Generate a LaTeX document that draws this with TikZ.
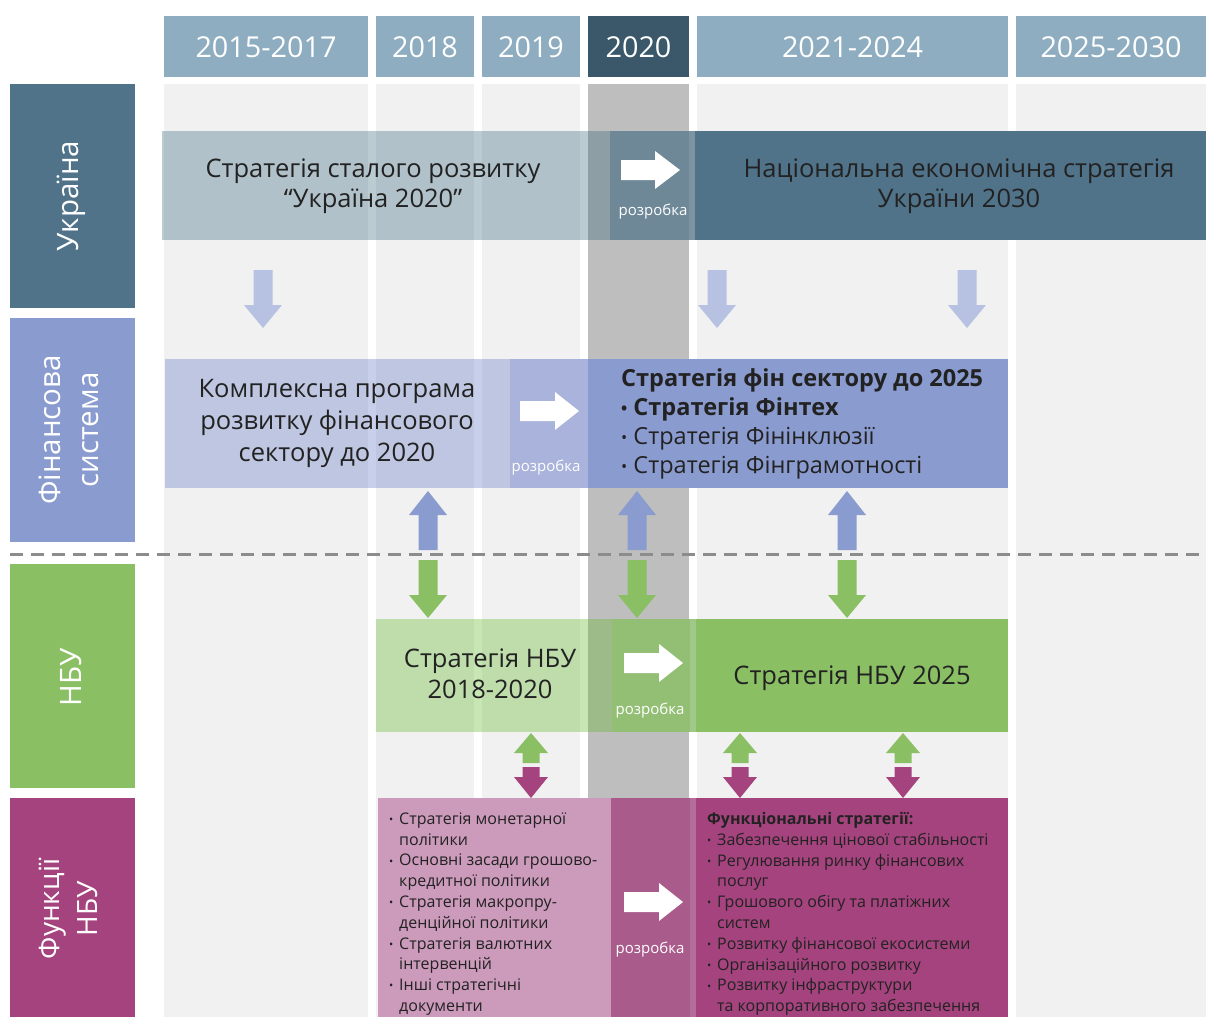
\documentclass[tikz,border=0pt]{standalone}
\usepackage{fontspec}
\setmainfont{Open Sans}
\definecolor{hdrc}{HTML}{8EADC0}
\definecolor{hdrd}{HTML}{3A5869}
\definecolor{colbg}{HTML}{F1F1F1}
\definecolor{colgray}{HTML}{BEBEBE}
\definecolor{ukc}{HTML}{50738A}
\definecolor{finc}{HTML}{8A9BCF}
\definecolor{nbuc}{HTML}{8ABF64}
\definecolor{func}{HTML}{A4437D}
\definecolor{rowAbase}{RGB}{30,85,109}
\definecolor{rowBbase}{RGB}{95,118,198}
\definecolor{rowCbase}{RGB}{98,181,41}
\definecolor{devA}{HTML}{6E8898}
\definecolor{devAs}{HTML}{7D95A3}
\definecolor{devB}{HTML}{A9B3DB}
\definecolor{devC}{HTML}{93BF75}
\definecolor{devCs}{HTML}{A0C889}
\definecolor{funL}{HTML}{CC9BBB}
\definecolor{devD}{HTML}{A95B8B}
\definecolor{devDs}{HTML}{B56E99}
\definecolor{arrLight}{HTML}{B7C2E2}
\definecolor{txtd}{HTML}{222222}
\definecolor{dashc}{HTML}{8C8C8C}
\newcommand\BArrV[7]{\fill[#1] ({#2-#6},#3) -- ({#2+#6},#3) -- ({#2+#6},#4) -- ({#2+#7},#4) -- (#2,#5) -- ({#2-#7},#4) -- ({#2-#6},#4) -- cycle;}
\newcommand\BArrH[7]{\fill[#1] (#3,{#2-#6}) -- (#4,{#2-#6}) -- (#4,{#2-#7}) -- (#5,#2) -- (#4,{#2+#7}) -- (#4,{#2+#6}) -- (#3,{#2+#6}) -- cycle;}
\newcommand\SmallBul{\raisebox{0.05em}{\scalebox{0.7}{•}}}
\newcommand\Bul{\makebox[10pt][l]{\SmallBul}}
\newcommand\Ind{\hspace*{10pt}}
\begin{document}
\begin{tikzpicture}[x=1pt,y=-1pt,
  hdrtxt/.style={text=white, inner sep=0pt, font=\fontsize{28.8}{30}\selectfont},
  sidetxt/.style={text=white, inner sep=0pt, rotate=90, align=center, font=\fontsize{29.5}{38}\selectfont},
  bandtxt/.style={text=txtd, inner sep=0pt, align=center, font=\fontsize{25.5}{30.5}\selectfont},
  devtxt/.style={text=white, inner sep=0pt, font=\fontsize{15}{16}\selectfont},
  listtxt/.style={text=txtd, inner sep=0pt, align=left, anchor=west, font=\fontsize{16}{20.8}\selectfont}]
\useasboundingbox (0,0) rectangle (1206,1017);
\fill[white] (0,0) rectangle (1206,1017);
% headers and column backgrounds
\foreach \a/\b/\t [count=\i] in {164/368/2015-2017, 376/474/2018, 482/580/2019, 697/1008/2021-2024, 1016/1206/2025-2030} {
  \fill[hdrc] (\a,16) rectangle (\b,77);
  \fill[colbg] (\a,84) rectangle (\b,1017);
  \node[hdrtxt] (h\i) at ({(\a+\b)/2},47) {\t};
}
\fill[hdrd] (588,16) rectangle (689,77);
\node[hdrtxt] (h2020) at (638.5,47) {2020};
\fill[colgray] (588,84) rectangle (689,1017);
% side labels
\fill[ukc] (10,84) rectangle (135,308);
\node[sidetxt] (sUA) at (71,196) {Україна};
\fill[finc] (10,318) rectangle (135,542);
\node[sidetxt] (sFin) at (69,430) {Фінансова\\система};
\fill[nbuc] (10,564) rectangle (135,788);
\node[sidetxt] (sNBU) at (71,677) {НБУ};
\fill[func] (10,798) rectangle (135,1017);
\node[sidetxt, font=\fontsize{28}{38}\selectfont] (sFun) at (68,909) {Функції\\НБУ};
% dashed separator
\draw[dashc, line width=3pt, dash pattern=on 13pt off 8pt] (10,554) -- (1206,554);
% row 1
\fill[rowAbase, opacity=0.3] (162,131) rectangle (610,240);
\fill[devA] (610,131) rectangle (695,240);
\fill[devAs] (689,131) rectangle (695,240);
\fill[ukc] (695,131) rectangle (1206,240);
\node[bandtxt] (tA1) at (373,186) {Стратегія сталого розвитку\\“Україна 2020”};
\node[bandtxt] (tA2) at (959,186) {Національна економічна стратегія\\України 2030};
\BArrH{white}{170}{621}{655}{680}{10}{19}
\node[devtxt] (dA) at (653,212) {розробка};
% arrows row1 -> row2
\foreach \x in {263,717,967} { \BArrV{arrLight}{\x}{270}{305}{328}{9.5}{19} }
% row 2
\fill[rowBbase, opacity=0.35] (165,359) rectangle (510,488);
\fill[devB] (510,359) rectangle (588,488);
\fill[finc] (588,359) rectangle (1008,488);
\node[bandtxt, font=\fontsize{25.5}{32}\selectfont] (tB1) at (337,423) {Комплексна програма\\розвитку фінансового\\сектору до 2020};
\node[text=txtd, inner sep=0pt, align=left, anchor=west, font=\fontsize{23.5}{29}\selectfont] (tB2) at (621,424)
  {\textbf{Стратегія фін сектору до 2025}\\\textbf{\SmallBul\ Стратегія Фінтех}\\\SmallBul\ Стратегія Фінінклюзії\\\SmallBul\ Стратегія Фінграмотності};
\BArrH{white}{411}{520}{555}{579}{10}{19}
\node[devtxt] (dB) at (546,468) {розробка};
% double arrows row2 <-> row3
\foreach \x in {428,637,847} {
  \BArrV{finc}{\x}{550}{515}{491}{9.5}{19}
  \BArrV{nbuc}{\x}{560}{595}{618}{9.5}{19}
}
% row 3
\fill[rowCbase, opacity=0.35] (376,619) rectangle (612,732);
\fill[devC] (612,619) rectangle (695,732);
\fill[devCs] (690,619) rectangle (696,732);
\fill[nbuc] (696,619) rectangle (1008,732);
\node[bandtxt] (tC1) at (490,674) {Стратегія НБУ\\2018-2020};
\node[bandtxt] (tC2) at (852,678) {Стратегія НБУ 2025};
\BArrH{white}{663}{624}{659}{683}{10}{19}
\node[devtxt] (dC) at (650,711) {розробка};
% double arrows row3 <-> row4
\foreach \x in {531,740,903} {
  \BArrV{nbuc}{\x}{763}{753}{733}{8.5}{17}
  \BArrV{func}{\x}{767}{777}{798}{8.5}{17}
}
% row 4
\fill[funL] (378,798) rectangle (611,1017);
\fill[devD] (611,798) rectangle (696,1017);
\fill[devDs] (690,798) rectangle (696,1017);
\fill[func] (696,798) rectangle (1008,1017);
\node[listtxt] (tD1) at (389,914) {\Bul Стратегія монетарної\\\Ind політики\\\Bul Основні засади грошово-\\\Ind кредитної політики\\\Bul Стратегія макропру-\\\Ind денційної політики\\\Bul Стратегія валютних\\\Ind інтервенцій\\\Bul Інші стратегічні\\\Ind документи};
\node[listtxt] (tD2) at (707,914) {\textbf{Функціональні стратегії:}\\\Bul Забезпечення цінової стабільності\\\Bul Регулювання ринку фінансових\\\Ind послуг\\\Bul Грошового обігу та платіжних\\\Ind систем\\\Bul Розвитку фінансової екосистеми\\\Bul Організаційного розвитку\\\Bul Розвитку інфраструктури\\\Ind та корпоративного забезпечення};
\BArrH{white}{902}{624}{659}{683}{10}{19}
\node[devtxt] (dD) at (650,950) {розробка};
\end{tikzpicture}
\end{document}
